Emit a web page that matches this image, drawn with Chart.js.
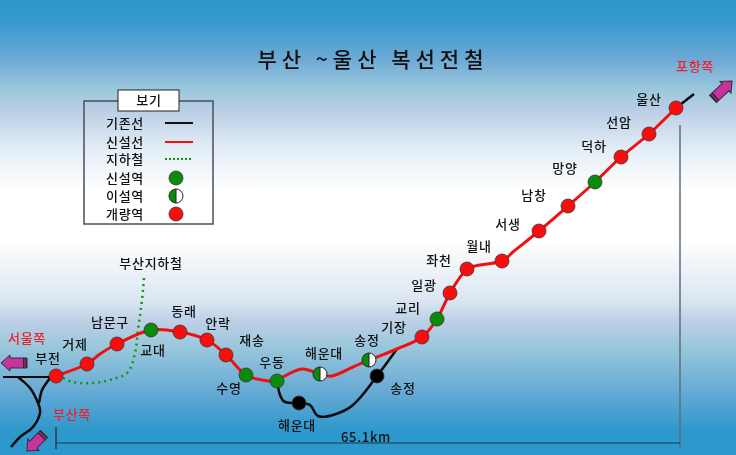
<!DOCTYPE html>
<html lang="ko">
<head>
<meta charset="utf-8">
<title>부산~울산 복선전철</title>
<script src="https://cdn.jsdelivr.net/npm/chart.js@4"></script>
<style>
  html, body { margin: 0; padding: 0; background: #fff; }
  #wrap {
    width: 736px; height: 455px; overflow: hidden;
    background: linear-gradient(to bottom,
      #2b98cb 0px, #3a9bce 25px, #6faad6 60px, #9cc8dc 90px, #bccfe6 112px,
      #e3eef6 150px, #ffffff 190px, #ffffff 240px, #dbe6f2 300px, #bccfe6 322px,
      #9cc8dc 345px, #62a8d4 395px, #2f98cc 430px, #2b98cb 455px);
  }
  canvas { display: block; }
</style>
</head>
<body>
<div id="wrap"><canvas id="routeChart" width="736" height="455"></canvas></div>
<script>
// Станции: название, положение на схеме, подпись
const stationNames = ["부전", "거제", "남문구", "교대", "동래", "안락", "재송", "수영", "우동", "해운대", "송정", "기장", "교리", "일광", "좌천", "월내", "서생", "남창", "망양", "덕하", "선암", "울산"];
const stationX = [56, 87, 117, 151, 180, 207, 226, 246, 277, 320, 369, 422, 437, 450, 467, 502, 539, 568, 595, 621, 649, 676];
const stationY = [376, 364, 344, 330, 332, 340, 355, 375, 381, 374, 360, 337, 319, 293, 269, 261, 231, 206, 182, 157, 134, 108];
const stationKind = ["up", "up", "up", "new", "up", "up", "up", "new", "new", "moved", "moved", "up", "new", "up", "up", "up", "up", "up", "new", "up", "up", "up"];
const labelX = [48, 75, 110, 153, 184, 218, 252, 229, 272, 324, 367, 394, 408, 424, 439, 479, 508, 534, 565, 594, 619, 649];
const labelY = [358, 344, 322, 350, 311, 323, 340, 388, 362, 353, 340, 327, 308, 285, 260, 246, 224, 195, 168, 146, 122, 99];

// Новая линия (красная)
const newLineX = [56, 87, 100, 117, 151, 180, 207, 226, 246, 262, 277, 283, 302, 320, 332, 353, 369, 397, 422, 437, 450, 467, 480, 502, 513, 539, 568, 595, 621, 649, 676];
const newLineY = [376, 364, 354, 344, 330, 332, 340, 355, 375, 380, 381, 377, 369, 374, 376, 367, 360, 349, 337, 319, 293, 269, 265, 261, 252, 231, 206, 182, 157, 134, 108];

// Существующие линии (чёрные)
const oldLoopX = [277, 280, 285, 299, 310, 318, 333, 353, 377, 397];
const oldLoopY = [381, 395, 402, 403, 405, 416, 415, 405, 376, 349];
const oldTailX = [676, 694];
const oldTailY = [108, 94];
const oldWestX = [3, 50];
const oldWestY = [377, 377];
const oldSouthX = [18, 30, 38, 40, 33, 20, 11];
const oldSouthY = [377, 388, 403, 413, 427, 437, 447];
const oldBranchX = [50, 42, 39];
const oldBranchY = [378, 390, 403];
const oldStationX = [299, 377];
const oldStationY = [403, 376];

// Метро (зелёный пунктир)
const subwayX = [144, 142, 138, 135, 128, 113, 93, 73, 63];
const subwayY = [278, 300, 330, 353, 372, 379, 383, 382, 378];

// Размерные линии
const spanX = [56, 680];
const spanY = [443, 443];
const leftTickX = [56, 56];
const leftTickY = [427, 449];
const rightTickX = [680, 680];
const rightTickY = [125, 449];

// Подписи
const titleText = "부산 ~울산 복선전철";
const legendNames = ["기존선", "신설선", "지하철", "신설역", "이설역", "개량역"];
const extraLabels = ["해운대", "송정", "65.1km", "부산지하철"];
const extraLabelX = [297, 403, 366, 151];
const extraLabelY = [425, 388, 437, 263];
const redLabels = ["서울쪽", "부산쪽", "포항쪽"];
const redLabelX = [27, 72, 695];
const redLabelY = [338, 414, 66];

const FONT = '"Noto Sans CJK KR", "Noto Sans", sans-serif';

function toPoints(xs, ys) {
  return xs.map((x, i) => ({ x: x, y: ys[i] }));
}

function stationsOf(kind) {
  const xs = stationX.filter((_, i) => stationKind[i] === kind);
  const ys = stationY.filter((_, i) => stationKind[i] === kind);
  return toPoints(xs, ys);
}

// Значок переносимой станции: половина зелёная, половина белая
function makeHalfMarker(size) {
  const c = document.createElement("canvas");
  c.width = size;
  c.height = size;
  const g = c.getContext("2d");
  const r = size / 2 - 1;
  g.fillStyle = "#ffffff";
  g.beginPath();
  g.arc(size / 2, size / 2, r, 0, Math.PI * 2);
  g.fill();
  g.fillStyle = "#0a8c0a";
  g.beginPath();
  g.arc(size / 2, size / 2, r, Math.PI / 2, Math.PI * 1.5);
  g.fill();
  g.strokeStyle = "#222222";
  g.lineWidth = 1;
  g.beginPath();
  g.moveTo(size / 2, 1);
  g.lineTo(size / 2, size - 1);
  g.arc(size / 2, size / 2, r, Math.PI / 2, Math.PI * 2.5);
  g.stroke();
  return c;
}

const halfMarker = makeHalfMarker(16);

function lineSet(xs, ys, color, width, extra) {
  return Object.assign({
    data: toPoints(xs, ys),
    showLine: true,
    borderColor: color,
    borderWidth: width,
    pointRadius: 0,
    tension: 0.35,
    order: 5,
  }, extra || {});
}

function stationSet(points, color, radius) {
  return {
    data: points,
    showLine: false,
    pointRadius: radius,
    pointBackgroundColor: color,
    pointBorderColor: "#333333",
    pointBorderWidth: 0.8,
    order: 1,
  };
}

function drawArrow(ctx, tipX, tipY, tailX, tailY) {
  const ang = Math.atan2(tailY - tipY, tailX - tipX);
  const len = Math.hypot(tailX - tipX, tailY - tipY);
  ctx.save();
  ctx.translate(tipX, tipY);
  ctx.rotate(ang);
  ctx.fillStyle = "#c6339b";
  ctx.strokeStyle = "#3a2a3a";
  ctx.lineWidth = 1;
  ctx.beginPath();
  ctx.moveTo(0, 0);
  ctx.lineTo(9, -8);
  ctx.lineTo(9, -5);
  ctx.lineTo(len, -5);
  ctx.lineTo(len, 5);
  ctx.lineTo(9, 5);
  ctx.lineTo(9, 8);
  ctx.closePath();
  ctx.fill();
  ctx.stroke();
  ctx.fillStyle = "#2a2a2a";
  ctx.fillRect(len - 4, -5, 1.5, 10);
  ctx.fillRect(len - 1.5, -5, 1.5, 10);
  ctx.restore();
}

// Подписи, заголовок, легенда и стрелки
const schemePlugin = {
  id: "scheme",
  afterDatasetsDraw(chart) {
    const ctx = chart.ctx;
    const px = (v) => chart.scales.x.getPixelForValue(v);
    const py = (v) => chart.scales.y.getPixelForValue(v);
    ctx.save();
    ctx.textAlign = "center";
    ctx.textBaseline = "middle";

    // Заголовок
    ctx.fillStyle = "#111111";
    ctx.font = "500 21px " + FONT;
    ctx.letterSpacing = "5px";
    ctx.fillText(titleText, px(373), py(59));
    ctx.letterSpacing = "0.7px";

    // Станции
    ctx.font = "500 13px " + FONT;
    ctx.fillStyle = "#111111";
    stationNames.forEach((name, i) => ctx.fillText(name, px(labelX[i]), py(labelY[i])));
    extraLabels.forEach((name, i) => ctx.fillText(name, px(extraLabelX[i]), py(extraLabelY[i])));

    ctx.fillStyle = "#f0202a";
    redLabels.forEach((name, i) => ctx.fillText(name, px(redLabelX[i]), py(redLabelY[i])));
    ctx.letterSpacing = "0px";

    // Стрелки
    drawArrow(ctx, px(1), py(363), px(27), py(363));
    drawArrow(ctx, px(27), py(451), px(44), py(434));
    drawArrow(ctx, px(732), py(81), px(713), py(99));

    // Легенда
    ctx.strokeStyle = "#4a4f58";
    ctx.lineWidth = 1.5;
    ctx.strokeRect(px(84), py(101), px(213) - px(84), py(224) - py(101));
    ctx.fillStyle = "#ffffff";
    ctx.strokeStyle = "#222222";
    ctx.lineWidth = 1;
    ctx.fillRect(px(118), py(90), px(179) - px(118), py(111) - py(90));
    ctx.strokeRect(px(118), py(90), px(179) - px(118), py(111) - py(90));
    ctx.fillStyle = "#111111";
    ctx.font = "500 13px " + FONT;
    ctx.letterSpacing = "0.7px";
    ctx.fillText("보기", px(149), py(100));

    const rowY = [123, 142, 159, 178, 196, 214];
    legendNames.forEach((name, i) => ctx.fillText(name, px(125), py(rowY[i])));
    ctx.letterSpacing = "0px";

    ctx.lineWidth = 2;
    ctx.strokeStyle = "#111111";
    ctx.beginPath();
    ctx.moveTo(px(165), py(rowY[0]));
    ctx.lineTo(px(193), py(rowY[0]));
    ctx.stroke();
    ctx.strokeStyle = "#f01010";
    ctx.beginPath();
    ctx.moveTo(px(165), py(rowY[1]));
    ctx.lineTo(px(193), py(rowY[1]));
    ctx.stroke();
    ctx.strokeStyle = "#0a9a0a";
    ctx.setLineDash([2, 2]);
    ctx.beginPath();
    ctx.moveTo(px(165), py(rowY[2]));
    ctx.lineTo(px(193), py(rowY[2]));
    ctx.stroke();
    ctx.setLineDash([]);

    const dot = (y, color) => {
      ctx.fillStyle = color;
      ctx.strokeStyle = "#333333";
      ctx.lineWidth = 0.8;
      ctx.beginPath();
      ctx.arc(px(176), py(y), 7, 0, Math.PI * 2);
      ctx.fill();
      ctx.stroke();
    };
    dot(rowY[3], "#0a8c0a");
    ctx.drawImage(halfMarker, px(176) - 8, py(rowY[4]) - 8);
    dot(rowY[5], "#fb0d0d");
    ctx.restore();
  },
};

new Chart(document.getElementById("routeChart").getContext("2d"), {
  type: "scatter",
  data: {
    datasets: [
      stationSet(stationsOf("up"), "#fb0d0d", 7),
      stationSet(stationsOf("new"), "#0a8c0a", 7),
      {
        data: stationsOf("moved"),
        showLine: false,
        pointStyle: halfMarker,
        order: 1,
      },
      stationSet(toPoints(oldStationX, oldStationY), "#000000", 7),
      lineSet(newLineX, newLineY, "#f01010", 3, { order: 3 }),
      lineSet(subwayX, subwayY, "#0a9a0a", 2.5, { borderDash: [2, 4], order: 4 }),
      lineSet(oldLoopX, oldLoopY, "#0a0a0a", 2.5),
      lineSet(oldTailX, oldTailY, "#0a0a0a", 2.5, { tension: 0 }),
      lineSet(oldWestX, oldWestY, "#0a0a0a", 2, { tension: 0 }),
      lineSet(oldSouthX, oldSouthY, "#0a0a0a", 2.5),
      lineSet(oldBranchX, oldBranchY, "#0a0a0a", 2.5),
      lineSet(spanX, spanY, "#17384f", 1.2, { tension: 0 }),
      lineSet(leftTickX, leftTickY, "#2c4a60", 1, { tension: 0 }),
      lineSet(rightTickX, rightTickY, "#5f6f7c", 1.5, { tension: 0 }),
    ],
  },
  options: {
    responsive: false,
    animation: false,
    layout: { padding: 0, autoPadding: false },
    events: [],
    scales: {
      x: { type: "linear", display: false, min: 0, max: 736 },
      y: { type: "linear", display: false, min: 0, max: 455, reverse: true },
    },
    plugins: {
      legend: { display: false },
      title: { display: false },
      tooltip: { enabled: false },
    },
  },
  plugins: [schemePlugin],
});
</script>
</body>
</html>
